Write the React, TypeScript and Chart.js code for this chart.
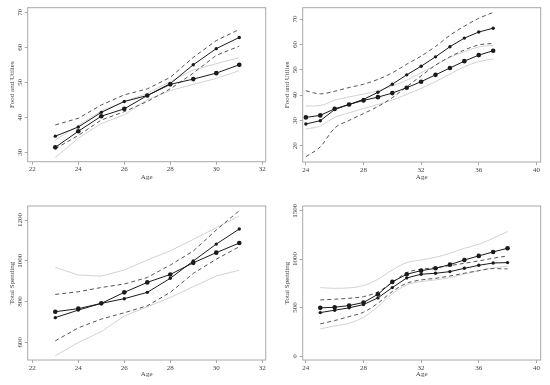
import React, { useEffect, useRef } from "react";
import { Chart, registerables } from "chart.js";

Chart.register(...registerables);

// ---------- data ----------
// Panel 1 (top-left): Food and Utilies vs Age
const P1_AGES = [23, 24, 25, 26, 27, 28, 29, 30, 31];
const P1_BIG = [31.4, 36.0, 40.3, 42.4, 46.2, 49.4, 50.9, 52.6, 55.0];
const P1_SMALL = [34.6, 37.2, 41.4, 44.5, 46.2, 49.6, 55.0, 59.6, 62.8];
const P1_DASH_UP = [37.8, 39.7, 43.5, 46.4, 48.1, 51.4, 57.1, 61.9, 65.1];
const P1_DASH_LO = [31.0, 34.8, 39.2, 41.6, 44.5, 48.1, 52.6, 57.7, 60.3];
const P1_GRAY_UP = [33.5, 37.6, 41.8, 44.5, 46.8, 50.2, 53.5, 55.3, 57.0];
const P1_GRAY_LO = [28.5, 34.0, 38.2, 40.7, 45.0, 47.6, 49.4, 51.1, 53.3];
const P1_X_TICKS = [22, 24, 26, 28, 30, 32];
const P1_Y_TICKS = [30, 40, 50, 60, 70];

// Panel 2 (top-right): Food and Utilies vs Age
const P2_AGES = [24, 25, 26, 27, 28, 29, 30, 31, 32, 33, 34, 35, 36, 37];
const P2_BIG = [31.2, 32.0, 34.6, 36.3, 37.9, 39.2, 40.8, 42.9, 45.3, 48.0, 50.7, 53.4, 55.8, 57.5];
const P2_SMALL = [28.6, 29.9, 34.3, 36.3, 38.3, 41.1, 44.3, 48.0, 51.4, 55.1, 59.1, 62.5, 64.9, 66.4];
const P2_DASH_UP = [41.7, 40.5, 41.5, 43.0, 44.3, 46.2, 48.8, 52.2, 55.4, 59.2, 63.6, 67.2, 70.3, 72.6];
const P2_DASH_LO = [15.7, 19.6, 27.0, 30.0, 32.7, 35.5, 39.0, 43.3, 47.6, 51.8, 55.1, 57.8, 59.8, 60.4];
const P2_GRAY_UP = [35.7, 35.9, 38.0, 39.3, 40.4, 41.7, 43.6, 45.9, 48.8, 51.8, 54.9, 57.1, 59.0, 59.6];
const P2_GRAY_LO = [26.6, 27.8, 31.2, 33.0, 34.7, 36.3, 38.0, 40.3, 42.6, 45.3, 48.3, 51.2, 53.2, 54.3];
const P2_X_TICKS = [24, 28, 32, 36, 40];
const P2_Y_TICKS = [20, 30, 40, 50, 60, 70];

// Panel 3 (bottom-left): Total Spending vs Age
const P3_AGES = [23, 24, 25, 26, 27, 28, 29, 30, 31];
const P3_BIG = [750, 765, 791, 845, 894, 933, 990, 1040, 1087];
const P3_SMALL = [721, 758, 791, 814, 845, 914, 999, 1082, 1156];
const P3_DASH_UP = [835, 848, 869, 886, 918, 979, 1048, 1151, 1246];
const P3_DASH_LO = [607, 671, 714, 745, 779, 845, 938, 1008, 1069];
const P3_GRAY_UP = [968, 930, 925, 955, 1004, 1049, 1105, 1162, 1220];
const P3_GRAY_LO = [534, 599, 652, 729, 774, 820, 873, 925, 954];
const P3_X_TICKS = [22, 24, 26, 28, 30, 32];
const P3_Y_TICKS = [600, 800, 1000, 1200];

// Panel 4 (bottom-right): Total Spending vs Age
const P4_AGES = [25, 26, 27, 28, 29, 30, 31, 32, 33, 34, 35, 36, 37, 38];
const P4_BIG = [497, 503, 521, 552, 637, 765, 844, 881, 905, 943, 991, 1033, 1074, 1112];
const P4_SMALL = [448, 473, 497, 531, 600, 706, 806, 844, 854, 871, 905, 936, 960, 964];
const P4_DASH_UP = [579, 586, 596, 613, 662, 758, 861, 895, 912, 933, 957, 981, 1009, 1033];
const P4_DASH_LO = [332, 366, 407, 452, 545, 665, 751, 785, 802, 826, 854, 881, 902, 899];
const P4_GRAY_UP = [706, 699, 703, 727, 792, 888, 964, 991, 1019, 1060, 1112, 1153, 1215, 1284];
const P4_GRAY_LO = [280, 311, 338, 400, 510, 641, 734, 768, 785, 810, 845, 880, 910, 925];
const P4_X_TICKS = [24, 28, 32, 36, 40];
const P4_Y_TICKS = [0, 500, 1000, 1500];

// ---------- styling ----------
const FONT_FAMILY = '"Liberation Serif", "Times New Roman", serif';
const TICK_FONT_SIZE = 7;
const TITLE_FONT_SIZE = 7;
const TEXT_COLOR = "#444444";
const BOX_COLOR = "#a8a8a8";
const LINE_COLOR = "#1a1a1a";
const DASH_COLOR = "#555555";
const GRAY_COLOR = "#d2d2d2";

type PanelCfg = {
  left: number;
  top: number;
  width: number;
  height: number;
  areaTop: number;
  areaBottom: number;
  areaLeft: number;
  areaRight: number;
  xMin: number;
  xMax: number;
  yMin: number;
  yMax: number;
  xTicks: number[];
  yTicks: number[];
  yTitle: string;
  ages: number[];
  big: number[];
  small: number[];
  dashUp: number[];
  dashLo: number[];
  grayUp: number[];
  grayLo: number[];
  smooth: boolean;
  xTitlePad: number;
};

// areaTop / areaBottom / areaLeft / areaRight are relative to each panel's canvas
const PANELS: PanelCfg[] = [
  {
    left: 0, top: 0, width: 275, height: 190,
    areaTop: 7.7, areaBottom: 161.7, areaLeft: 27.7, areaRight: 265.7,
    xMin: 21.8, xMax: 32.15, yMin: 27.3, yMax: 71.3,
    xTicks: P1_X_TICKS, yTicks: P1_Y_TICKS, yTitle: "Food and Utilies",
    ages: P1_AGES, big: P1_BIG, small: P1_SMALL,
    dashUp: P1_DASH_UP, dashLo: P1_DASH_LO, grayUp: P1_GRAY_UP, grayLo: P1_GRAY_LO,
    smooth: false, xTitlePad: 8.8,
  },
  {
    left: 275, top: 0, width: 275, height: 190,
    areaTop: 7.7, areaBottom: 162, areaLeft: 27.7, areaRight: 265.7,
    xMin: 23.78, xMax: 40.3, yMin: 13.6, yMax: 74.5,
    xTicks: P2_X_TICKS, yTicks: P2_Y_TICKS, yTitle: "Food and Utilies",
    ages: P2_AGES, big: P2_BIG, small: P2_SMALL,
    dashUp: P2_DASH_UP, dashLo: P2_DASH_LO, grayUp: P2_GRAY_UP, grayLo: P2_GRAY_LO,
    smooth: true, xTitlePad: 8.8,
  },
  {
    left: 0, top: 190, width: 275, height: 195,
    areaTop: 16, areaBottom: 170, areaLeft: 27.7, areaRight: 265.7,
    xMin: 21.8, xMax: 32.15, yMin: 513, yMax: 1269,
    xTicks: P3_X_TICKS, yTicks: P3_Y_TICKS, yTitle: "Total Spending",
    ages: P3_AGES, big: P3_BIG, small: P3_SMALL,
    dashUp: P3_DASH_UP, dashLo: P3_DASH_LO, grayUp: P3_GRAY_UP, grayLo: P3_GRAY_LO,
    smooth: false, xTitlePad: 6.8,
  },
  {
    left: 275, top: 190, width: 275, height: 195,
    areaTop: 16, areaBottom: 170, areaLeft: 27.7, areaRight: 265.7,
    xMin: 23.78, xMax: 40.3, yMin: -41, yMax: 1548,
    xTicks: P4_X_TICKS, yTicks: P4_Y_TICKS, yTitle: "Total Spending",
    ages: P4_AGES, big: P4_BIG, small: P4_SMALL,
    dashUp: P4_DASH_UP, dashLo: P4_DASH_LO, grayUp: P4_GRAY_UP, grayLo: P4_GRAY_LO,
    smooth: true, xTitlePad: 6.8,
  },
];

const rStylePlugin = {
  id: "rStyle",
  afterDraw(chart: any, _args: any, opts: any) {
    const { ctx, chartArea: a } = chart;
    ctx.save();
    ctx.strokeStyle = BOX_COLOR;
    ctx.lineWidth = 1;
    ctx.strokeRect(a.left, a.top, a.right - a.left, a.bottom - a.top);
    const ys = chart.scales.y;
    ctx.fillStyle = TEXT_COLOR;
    ctx.font = `${TICK_FONT_SIZE}px ${FONT_FAMILY}`;
    ctx.textAlign = "center";
    ctx.textBaseline = "middle";
    for (const v of opts.yTicks as number[]) {
      const py = ys.getPixelForValue(v);
      ctx.save();
      ctx.translate(opts.labelX, py);
      ctx.rotate(-Math.PI / 2);
      ctx.fillText(String(v), 0, 0);
      ctx.restore();
    }
    ctx.restore();
  },
};

function toPts(xs: number[], ys: number[]) {
  return xs.map((x, i) => ({ x, y: ys[i] }));
}

function Panel({ cfg }: { cfg: PanelCfg }) {
  const ref = useRef<HTMLCanvasElement>(null);
  useEffect(() => {
    if (!ref.current) return;
    const tension = cfg.smooth ? 0.35 : 0;
    const mode = cfg.smooth ? "monotone" : "default";
    const chart = new Chart(ref.current, {
      type: "line",
      data: {
        datasets: [
          {
            label: "big",
            data: toPts(cfg.ages, cfg.big),
            borderColor: LINE_COLOR,
            backgroundColor: LINE_COLOR,
            borderWidth: 1,
            pointRadius: 2.3,
            pointStyle: "circle",
            pointBorderWidth: 0,
            tension: 0,
          },
          {
            label: "small",
            data: toPts(cfg.ages, cfg.small),
            borderColor: LINE_COLOR,
            backgroundColor: LINE_COLOR,
            borderWidth: 1,
            pointRadius: 1.7,
            pointStyle: "circle",
            pointBorderWidth: 0,
            tension: 0,
          },
          {
            label: "dashUp",
            data: toPts(cfg.ages, cfg.dashUp),
            borderColor: DASH_COLOR,
            borderWidth: 1,
            borderDash: [4, 3],
            pointRadius: 0,
            tension,
            cubicInterpolationMode: mode as any,
          },
          {
            label: "dashLo",
            data: toPts(cfg.ages, cfg.dashLo),
            borderColor: DASH_COLOR,
            borderWidth: 1,
            borderDash: [4, 3],
            pointRadius: 0,
            tension,
            cubicInterpolationMode: mode as any,
          },
          {
            label: "grayUp",
            data: toPts(cfg.ages, cfg.grayUp),
            borderColor: GRAY_COLOR,
            borderWidth: 1,
            pointRadius: 0,
            tension,
            cubicInterpolationMode: mode as any,
          },
          {
            label: "grayLo",
            data: toPts(cfg.ages, cfg.grayLo),
            borderColor: GRAY_COLOR,
            borderWidth: 1,
            pointRadius: 0,
            tension,
            cubicInterpolationMode: mode as any,
          },
        ],
      },
      options: {
        animation: false,
        responsive: false,
        maintainAspectRatio: false,
        devicePixelRatio: 1,
        layout: {
          padding: {
            top: cfg.areaTop,
            right: cfg.width - cfg.areaRight,
            left: 0,
            bottom: 0,
          },
        },
        plugins: {
          legend: { display: false },
          tooltip: { enabled: false },
          rStyle: { yTicks: cfg.yTicks, labelX: 20.5 },
        } as any,
        scales: {
          x: {
            type: "linear",
            min: cfg.xMin,
            max: cfg.xMax,
            afterBuildTicks: (s: any) => {
              s.ticks = cfg.xTicks.map((v) => ({ value: v }));
            },
            afterFit: (s: any) => {
              s.height = cfg.height - cfg.areaBottom;
            },
            border: { display: false },
            grid: {
              display: true,
              drawOnChartArea: false,
              drawTicks: true,
              tickLength: 3,
              color: BOX_COLOR,
            },
            ticks: {
              autoSkip: false,
              maxRotation: 0,
              minRotation: 0,
              padding: 0.5,
              color: TEXT_COLOR,
              font: { family: FONT_FAMILY, size: TICK_FONT_SIZE },
              callback: (v: any) => String(v),
            },
            title: {
              display: true,
              text: "Age",
              color: TEXT_COLOR,
              font: { family: FONT_FAMILY, size: TITLE_FONT_SIZE },
              padding: { top: 0, bottom: cfg.xTitlePad },
            },
          },
          y: {
            type: "linear",
            min: cfg.yMin,
            max: cfg.yMax,
            afterBuildTicks: (s: any) => {
              s.ticks = cfg.yTicks.map((v) => ({ value: v }));
            },
            afterFit: (s: any) => {
              s.width = cfg.areaLeft;
            },
            border: { display: false },
            grid: {
              display: true,
              drawOnChartArea: false,
              drawTicks: true,
              tickLength: 3,
              color: BOX_COLOR,
            },
            ticks: { display: false },
            title: {
              display: true,
              text: cfg.yTitle,
              color: TEXT_COLOR,
              font: { family: FONT_FAMILY, size: TITLE_FONT_SIZE },
              padding: { top: 8, bottom: 0 },
            },
          },
        },
      },
      plugins: [rStylePlugin],
    });
    return () => chart.destroy();
  }, [cfg]);

  return (
    <canvas
      ref={ref}
      width={cfg.width}
      height={cfg.height}
      style={{
        position: "absolute",
        left: cfg.left,
        top: cfg.top,
        width: cfg.width,
        height: cfg.height,
      }}
    />
  );
}

export default function App() {
  return (
    <div
      style={{
        position: "fixed",
        left: 0,
        top: 0,
        width: 550,
        height: 385,
        background: "#ffffff",
        overflow: "hidden",
      }}
    >
      {PANELS.map((p, i) => (
        <Panel key={i} cfg={p} />
      ))}
    </div>
  );
}
